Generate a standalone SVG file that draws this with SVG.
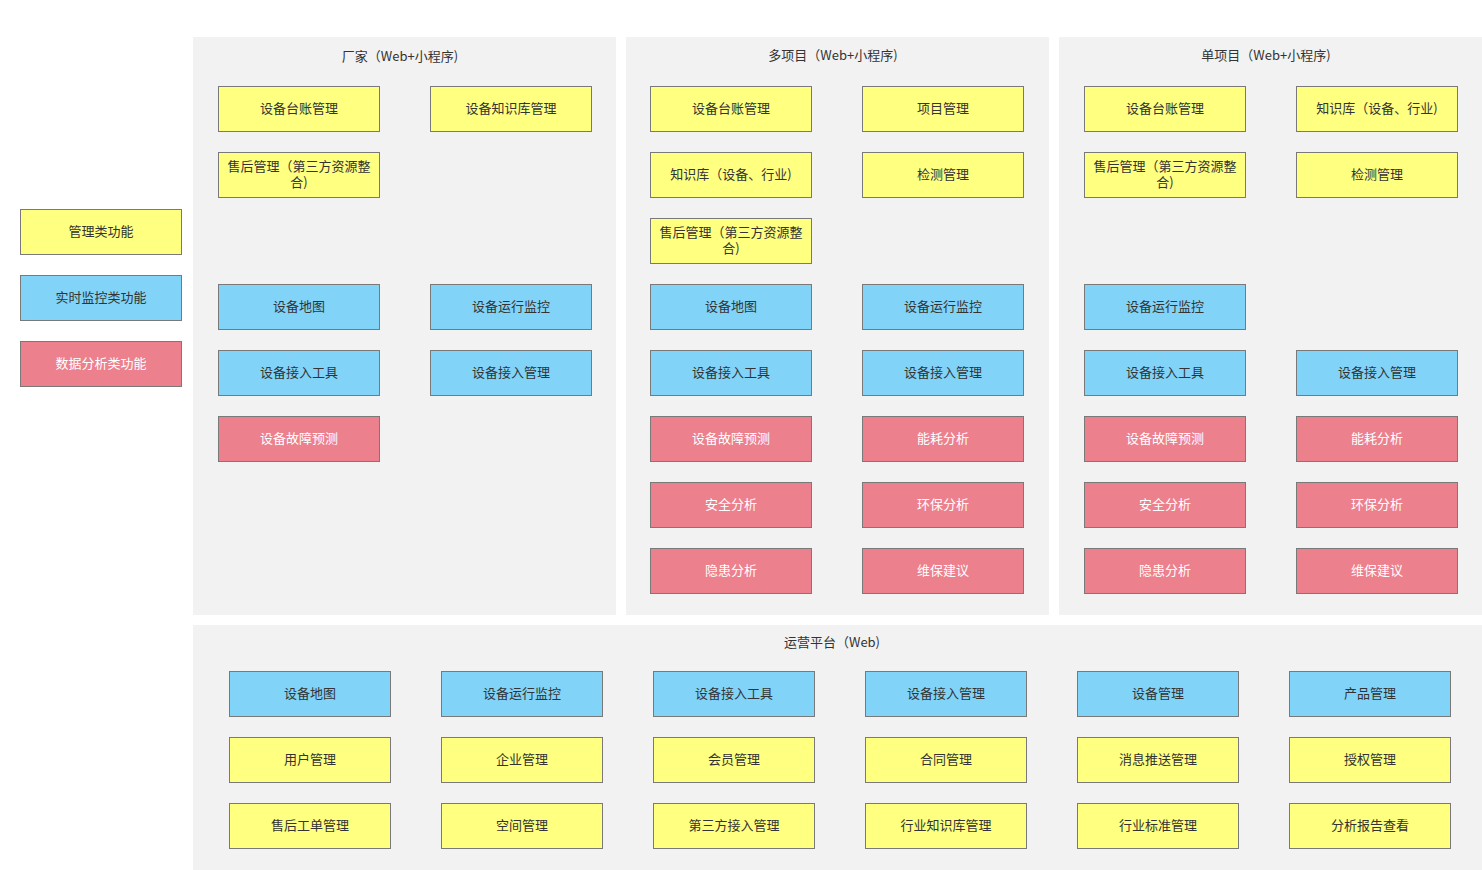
<svg xmlns="http://www.w3.org/2000/svg" width="1482" height="870" viewBox="0 0 1482 870">
<style>
text{font-family:"Noto Sans CJK SC","Liberation Sans",sans-serif;font-size:13px;fill:#333333;text-anchor:middle}
.panel{fill:#F2F2F2}
.n rect{stroke:#797979;stroke-width:1;width:161px;height:45px}
.y rect{fill:#FFFF80}
.b rect{fill:#81D3F8}
.r rect{fill:#EC808D}
.r text{fill:#FFFFFF}
</style>
<rect width="1482" height="870" fill="#FFFFFF"/>
<g id="legend">
<g id="leg-mgmt" class="n y"><rect x="20.5" y="209.5"/><text x="101" y="236">管理类功能</text></g>
<g id="leg-mon" class="n b"><rect x="20.5" y="275.5"/><text x="101" y="302">实时监控类功能</text></g>
<g id="leg-ana" class="n r"><rect x="20.5" y="341.5"/><text x="101" y="368">数据分析类功能</text></g>
</g>
<g id="panel-factory">
<rect class="panel" x="193" y="37" width="423" height="578"/>
<text x="400" y="61">厂家（Web+小程序)</text>
<g id="f1" class="n y"><rect x="218.5" y="86.5"/><text x="299" y="113">设备台账管理</text></g>
<g id="f2" class="n y"><rect x="430.5" y="86.5"/><text x="511" y="113">设备知识库管理</text></g>
<g id="f3" class="n y"><rect x="218.5" y="152.5"/><text x="299" y="171">售后管理（第三方资源整</text><text x="299" y="187">合)</text></g>
<g id="f4" class="n b"><rect x="218.5" y="284.5"/><text x="299" y="311">设备地图</text></g>
<g id="f5" class="n b"><rect x="430.5" y="284.5"/><text x="511" y="311">设备运行监控</text></g>
<g id="f6" class="n b"><rect x="218.5" y="350.5"/><text x="299" y="377">设备接入工具</text></g>
<g id="f7" class="n b"><rect x="430.5" y="350.5"/><text x="511" y="377">设备接入管理</text></g>
<g id="f8" class="n r"><rect x="218.5" y="416.5"/><text x="299" y="443">设备故障预测</text></g>
</g>
<g id="panel-multi">
<rect class="panel" x="626" y="37" width="423" height="578"/>
<text x="833" y="60">多项目（Web+小程序)</text>
<g id="m1" class="n y"><rect x="650.5" y="86.5"/><text x="731" y="113">设备台账管理</text></g>
<g id="m2" class="n y"><rect x="862.5" y="86.5"/><text x="943" y="113">项目管理</text></g>
<g id="m3" class="n y"><rect x="650.5" y="152.5"/><text x="731" y="179">知识库（设备、行业)</text></g>
<g id="m4" class="n y"><rect x="862.5" y="152.5"/><text x="943" y="179">检测管理</text></g>
<g id="m5" class="n y"><rect x="650.5" y="218.5"/><text x="731" y="237">售后管理（第三方资源整</text><text x="731" y="253">合)</text></g>
<g id="m6" class="n b"><rect x="650.5" y="284.5"/><text x="731" y="311">设备地图</text></g>
<g id="m7" class="n b"><rect x="862.5" y="284.5"/><text x="943" y="311">设备运行监控</text></g>
<g id="m8" class="n b"><rect x="650.5" y="350.5"/><text x="731" y="377">设备接入工具</text></g>
<g id="m9" class="n b"><rect x="862.5" y="350.5"/><text x="943" y="377">设备接入管理</text></g>
<g id="m10" class="n r"><rect x="650.5" y="416.5"/><text x="731" y="443">设备故障预测</text></g>
<g id="m11" class="n r"><rect x="862.5" y="416.5"/><text x="943" y="443">能耗分析</text></g>
<g id="m12" class="n r"><rect x="650.5" y="482.5"/><text x="731" y="509">安全分析</text></g>
<g id="m13" class="n r"><rect x="862.5" y="482.5"/><text x="943" y="509">环保分析</text></g>
<g id="m14" class="n r"><rect x="650.5" y="548.5"/><text x="731" y="575">隐患分析</text></g>
<g id="m15" class="n r"><rect x="862.5" y="548.5"/><text x="943" y="575">维保建议</text></g>
</g>
<g id="panel-single">
<rect class="panel" x="1059" y="37" width="423" height="578"/>
<text x="1266" y="60">单项目（Web+小程序)</text>
<g id="s1" class="n y"><rect x="1084.5" y="86.5"/><text x="1165" y="113">设备台账管理</text></g>
<g id="s2" class="n y"><rect x="1296.5" y="86.5"/><text x="1377" y="113">知识库（设备、行业)</text></g>
<g id="s3" class="n y"><rect x="1084.5" y="152.5"/><text x="1165" y="171">售后管理（第三方资源整</text><text x="1165" y="187">合)</text></g>
<g id="s4" class="n y"><rect x="1296.5" y="152.5"/><text x="1377" y="179">检测管理</text></g>
<g id="s5" class="n b"><rect x="1084.5" y="284.5"/><text x="1165" y="311">设备运行监控</text></g>
<g id="s6" class="n b"><rect x="1084.5" y="350.5"/><text x="1165" y="377">设备接入工具</text></g>
<g id="s7" class="n b"><rect x="1296.5" y="350.5"/><text x="1377" y="377">设备接入管理</text></g>
<g id="s8" class="n r"><rect x="1084.5" y="416.5"/><text x="1165" y="443">设备故障预测</text></g>
<g id="s9" class="n r"><rect x="1296.5" y="416.5"/><text x="1377" y="443">能耗分析</text></g>
<g id="s10" class="n r"><rect x="1084.5" y="482.5"/><text x="1165" y="509">安全分析</text></g>
<g id="s11" class="n r"><rect x="1296.5" y="482.5"/><text x="1377" y="509">环保分析</text></g>
<g id="s12" class="n r"><rect x="1084.5" y="548.5"/><text x="1165" y="575">隐患分析</text></g>
<g id="s13" class="n r"><rect x="1296.5" y="548.5"/><text x="1377" y="575">维保建议</text></g>
</g>
<g id="panel-ops">
<rect class="panel" x="193" y="625" width="1289" height="245"/>
<text x="832" y="647">运营平台（Web)</text>
<g id="o1" class="n b"><rect x="229.5" y="671.5"/><text x="310" y="698">设备地图</text></g>
<g id="o2" class="n b"><rect x="441.5" y="671.5"/><text x="522" y="698">设备运行监控</text></g>
<g id="o3" class="n b"><rect x="653.5" y="671.5"/><text x="734" y="698">设备接入工具</text></g>
<g id="o4" class="n b"><rect x="865.5" y="671.5"/><text x="946" y="698">设备接入管理</text></g>
<g id="o5" class="n b"><rect x="1077.5" y="671.5"/><text x="1158" y="698">设备管理</text></g>
<g id="o6" class="n b"><rect x="1289.5" y="671.5"/><text x="1370" y="698">产品管理</text></g>
<g id="o7" class="n y"><rect x="229.5" y="737.5"/><text x="310" y="764">用户管理</text></g>
<g id="o8" class="n y"><rect x="441.5" y="737.5"/><text x="522" y="764">企业管理</text></g>
<g id="o9" class="n y"><rect x="653.5" y="737.5"/><text x="734" y="764">会员管理</text></g>
<g id="o10" class="n y"><rect x="865.5" y="737.5"/><text x="946" y="764">合同管理</text></g>
<g id="o11" class="n y"><rect x="1077.5" y="737.5"/><text x="1158" y="764">消息推送管理</text></g>
<g id="o12" class="n y"><rect x="1289.5" y="737.5"/><text x="1370" y="764">授权管理</text></g>
<g id="o13" class="n y"><rect x="229.5" y="803.5"/><text x="310" y="830">售后工单管理</text></g>
<g id="o14" class="n y"><rect x="441.5" y="803.5"/><text x="522" y="830">空间管理</text></g>
<g id="o15" class="n y"><rect x="653.5" y="803.5"/><text x="734" y="830">第三方接入管理</text></g>
<g id="o16" class="n y"><rect x="865.5" y="803.5"/><text x="946" y="830">行业知识库管理</text></g>
<g id="o17" class="n y"><rect x="1077.5" y="803.5"/><text x="1158" y="830">行业标准管理</text></g>
<g id="o18" class="n y"><rect x="1289.5" y="803.5"/><text x="1370" y="830">分析报告查看</text></g>
</g>
<g id="connectors"/>
</svg>
